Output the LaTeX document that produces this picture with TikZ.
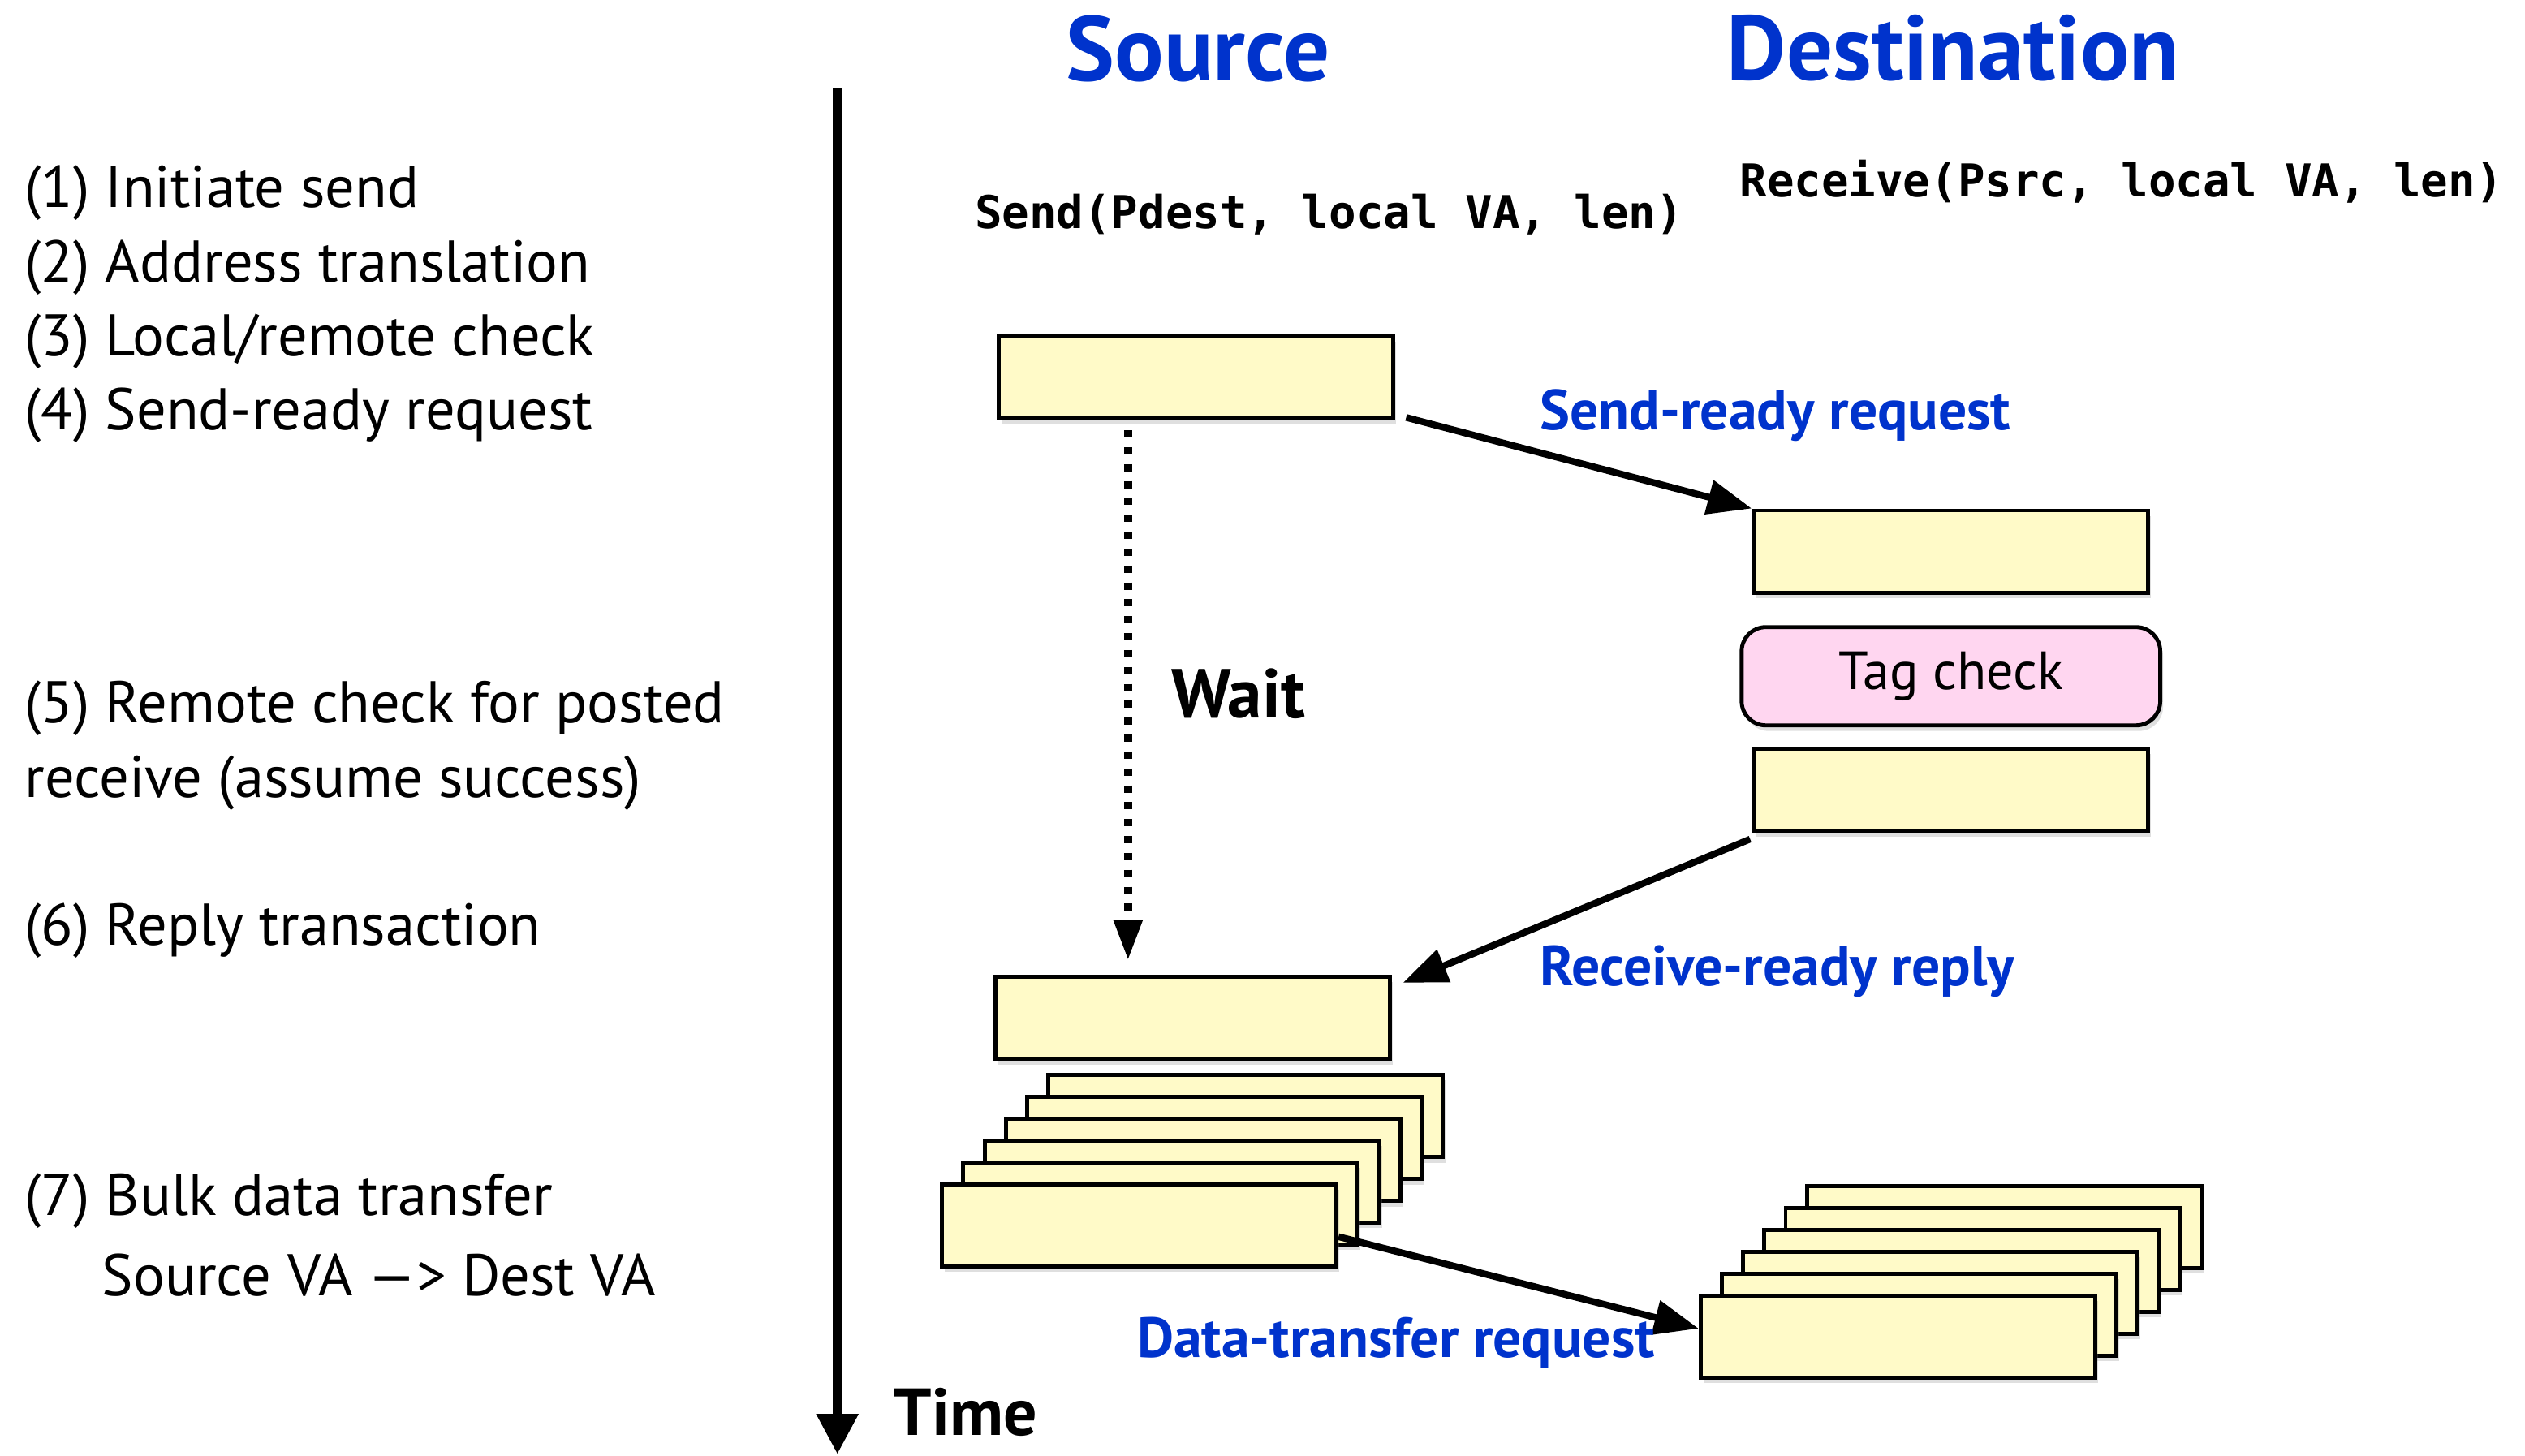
\documentclass[tikz,border=0pt]{standalone}
\usepackage{fontspec}
\setmainfont{PT Sans}
\setmonofont{DejaVu Sans Mono}
\usetikzlibrary{arrows.meta, positioning, shadows, calc}
\definecolor{boxyellow}{RGB}{255,250,200}
\definecolor{tagpink}{RGB}{255,214,240}
\definecolor{labelblue}{RGB}{0,51,204}

\begin{document}
\begin{tikzpicture}[
  x=0.02cm, y=-0.02cm,
  every node/.style={inner sep=0pt},
  msgbox/.style={draw, line width=1.4pt, fill=boxyellow, minimum width=4.9cm, minimum height=1.02cm,
    drop shadow={shadow xshift=1pt, shadow yshift=-2pt, opacity=0.25}},
  tagbox/.style={draw, line width=1.4pt, fill=tagpink, rounded corners=0.3cm, minimum width=5.2cm, minimum height=1.22cm,
    font=\fontsize{19}{22}\selectfont, drop shadow={shadow xshift=1pt, shadow yshift=-2pt, opacity=0.25}},
  stepnote/.style={anchor=west, font=\fontsize{20.8}{24}\selectfont},
  colhead/.style={font=\fontsize{32.4}{36}\selectfont\bfseries, text=labelblue},
  apicall/.style={anchor=west, font=\fontsize{16}{19}\selectfont\ttfamily\bfseries},
  msglabel/.style={font=\fontsize{20}{23}\selectfont\bfseries, text=labelblue},
  bigword/.style={anchor=west, font=\fontsize{24.5}{28}\selectfont\bfseries},
  msgarrow/.style={line width=2.4pt, -{Triangle[length=0.55cm, width=0.42cm]}},
  waitarrow/.style={line width=2.8pt, dash pattern=on 0.09cm off 0.12cm, -{Triangle[length=0.5cm, width=0.34cm]}},
  timearrow/.style={line width=3pt, -{Triangle[length=0.5cm, width=0.5cm]}}
]
  \useasboundingbox (0,0) rectangle (1568,904);

  % steps on the left
  \node[stepnote] (note1) at (15,120) {(1) Initiate send};
  \node[stepnote] (note2) at (15,166) {(2) Address translation};
  \node[stepnote] (note3) at (15,212) {(3) Local/remote check};
  \node[stepnote] (note4) at (15,258) {(4) Send-ready request};
  \node[stepnote] (note5) at (15,440) {(5) Remote check for posted};
  \node[stepnote] (note5b) at (15,486) {receive (assume success)};
  \node[stepnote] (note6) at (15,578) {(6) Reply transaction};
  \node[stepnote] (note7) at (15,746) {(7) Bulk data transfer};
  \node[stepnote] (note7b) at (63,792) {Source VA —> Dest VA};

  % time axis
  \coordinate (tstart) at (520,55);
  \coordinate (tend) at (520,903);
  \draw[timearrow] (tstart) -- (tend);
  \node[bigword, font=\fontsize{23.5}{27}\selectfont\bfseries] (time) at (555,877) {Time};

  % column heads and calls
  \node[colhead] (src) at (744,30) {Source};
  \node[colhead] (dst) at (1213,30) {Destination};
  \node[apicall] (sendcall) at (605,133) {Send(Pdest, local VA, len)};
  \node[apicall] (recvcall) at (1080,113) {Receive(Psrc, local VA, len)};

  % handshake
  \node[msgbox] (src1) at (742.5,234.5) {};
  \node[msgbox] (dst1) at (1211.5,342.5) {};
  \node[tagbox, below=0.38cm of dst1] (tag) {Tag check};
  \node[msgbox, below=0.24cm of tag] (dst2) {};
  \node[msgbox] (src2) at (740.5,632) {};

  \draw[msgarrow] ([shift={(7,-2)}]src1.south east) -- (dst1.north west);
  \node[msglabel, anchor=west] (reqlbl) at (956,258) {Send-ready request};

  \draw[waitarrow] ([shift={(-42,6)}]src1.south) -- ([shift={(-40,-9)}]src2.north);
  \node[bigword] (wait) at (727,431) {Wait};

  \draw[msgarrow] ([shift={(-1,4)}]dst2.south west) -- ([shift={(7,5)}]src2.north east);
  \node[msglabel, anchor=west] (replbl) at (956,603) {Receive-ready reply};

  % bulk data packets
  \coordinate (srcbase) at (707.5,761);
  \coordinate (dstbase) at (1178.5,830);
  \foreach \k in {5,4,3,2,1,0} {
    \node[msgbox] (srcpkt\k) at ([shift={(13.2*\k,-13.6*\k)}]srcbase) {};
    \node[msgbox] (dstpkt\k) at ([shift={(13.2*\k,-13.6*\k)}]dstbase) {};
  }
  \draw[msgarrow] ([yshift=-7*0.02cm]srcpkt0.east) -- ([yshift=5*0.02cm]dstpkt0.west);
  \node[msglabel, anchor=east] (datalbl) at (1028,834) {Data-transfer request};
\end{tikzpicture}
\end{document}
